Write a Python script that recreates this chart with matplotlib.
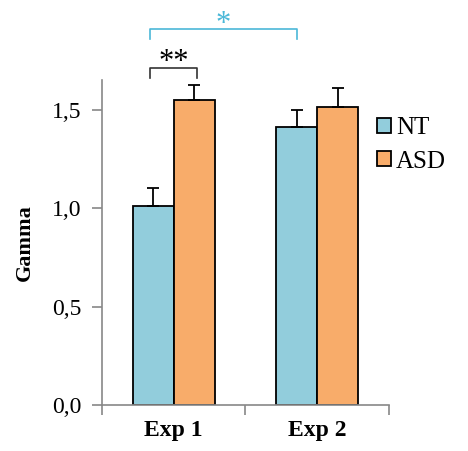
import numpy as np
import matplotlib.pyplot as plt

plt.rcParams["font.family"] = ["Liberation Serif", "DejaVu Serif"]

experiments = ["Exp 1", "Exp 2"]
groups = ["NT", "ASD"]
nt_mean = [1.01, 1.41]
nt_err = [0.09, 0.09]
asd_mean = [1.55, 1.515]
asd_err = [0.075, 0.095]

nt_color = "#92CDDC"
asd_color = "#F8AC6A"
sig_color = "#4BB8D8"

fig = plt.figure(figsize=(4.68, 4.51), dpi=100)
ax = fig.add_axes([0.218, 0.102, 0.613, 0.7206])

x = np.arange(len(experiments))
w = 0.285
ax.bar(x - w / 2, nt_mean, w, color=nt_color, edgecolor="black", linewidth=1.3,
       yerr=[np.zeros(2), nt_err], capsize=4,
       error_kw=dict(ecolor="black", elinewidth=1.3, capthick=1.3), label=groups[0])
ax.bar(x + w / 2, asd_mean, w, color=asd_color, edgecolor="black", linewidth=1.3,
       yerr=[np.zeros(2), asd_err], capsize=4,
       error_kw=dict(ecolor="black", elinewidth=1.3, capthick=1.3), label=groups[1])

ax.set_xlim(-0.5, 1.5)
ax.set_ylim(0, 1.65)
ax.set_yticks([0, 0.5, 1.0, 1.5])
ax.set_yticklabels(["0,0", "0,5", "1,0", "1,5"], fontsize=17)
ax.set_xticks([-0.5, 0.5, 1.5])
ax.set_xticklabels([])
ax.set_xticks(x, minor=True)
ax.set_xticklabels(experiments, minor=True, fontsize=17, fontweight="bold")
ax.tick_params(axis="x", which="minor", length=0, pad=11)
ax.tick_params(axis="both", which="major", color="#888888", length=7, width=1.2)
ax.tick_params(axis="y", pad=8)

for side in ["top", "right"]:
    ax.spines[side].set_visible(False)
for side in ["left", "bottom"]:
    ax.spines[side].set_color("#888888")
    ax.spines[side].set_linewidth(1.2)

ax.set_ylabel("Gamma", fontsize=16, fontweight="bold", labelpad=12)

# significance brackets
x1, x2 = -w / 2 - 0.02, w / 2 + 0.02
ax.plot([x1, x1, x2, x2], [1.66, 1.71, 1.71, 1.66], color="#333333", lw=1.2, clip_on=False)
ax.text((x1 + x2) / 2, 1.70, "**", ha="center", va="baseline", fontsize=22, color="black")

x3 = 1 - w / 2
ax.plot([x1, x1, x3, x3], [1.86, 1.91, 1.91, 1.86], color=sig_color, lw=1.2, clip_on=False)
ax.text((x1 + x3) / 2, 1.895, "*", ha="center", va="baseline", fontsize=22, color=sig_color)

ax.legend(loc="center left", bbox_to_anchor=(0.925, 0.80), frameon=False, fontsize=18,
          handlelength=0.55, handleheight=0.55, handletextpad=0.2, labelspacing=0.45,
          borderaxespad=0)

fig.savefig("out.png", dpi=100)
